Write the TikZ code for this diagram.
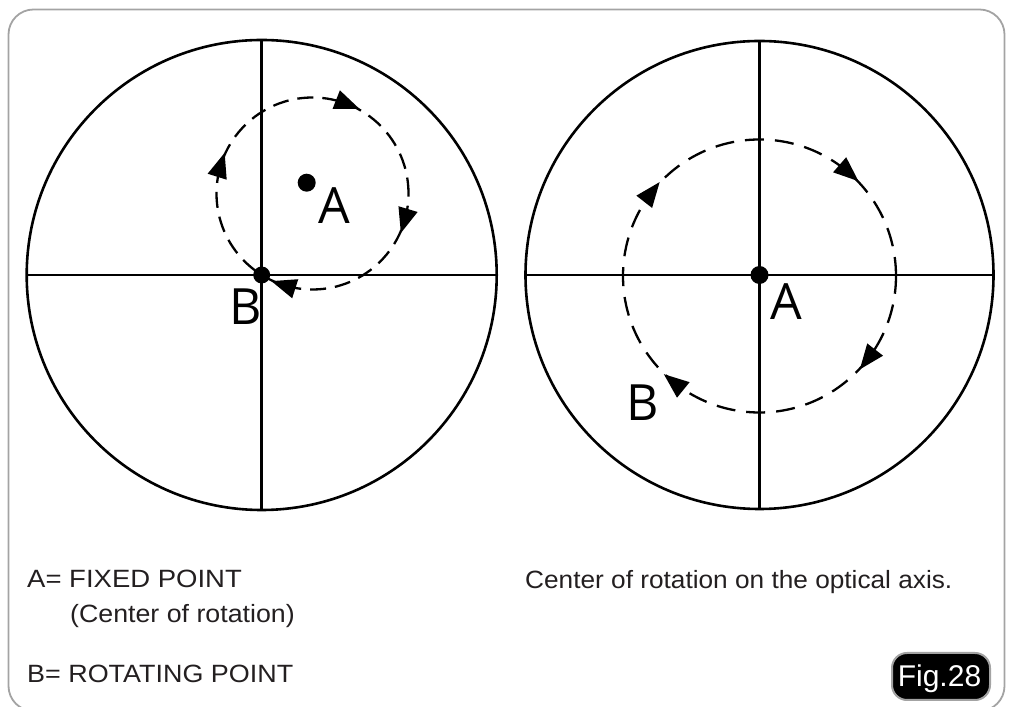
\documentclass[tikz,border=0pt]{standalone}
\usepackage{fontspec}
\setmainfont{Liberation Sans}
\newfontfamily\labelfont{Open Sans}
\usepackage{graphicx}
\usetikzlibrary{calc}
\definecolor{framegray}{HTML}{A3A3A3}
\definecolor{txtgray}{HTML}{231F20}
\begin{document}
\begin{tikzpicture}[x=1pt,y=1pt,
  frame/.style={draw=framegray, line width=1.8pt, rounded corners=25pt},
  bigcircle/.style={draw=black, line width=2.6pt},
  crossline/.style={draw=black, line width=2.6pt},
  dashcirc/.style={draw=black, line width=2.3pt, dash pattern=on 16pt off 9pt},
  dashcircb/.style={draw=black, line width=2.3pt, dash pattern=on 19pt off 11pt},
  dot/.style={circle, fill=black, inner sep=0pt},
  biglabel/.style={inner sep=0pt, font=\labelfont\fontsize{50}{50}\selectfont},
  caption/.style={inner sep=0pt, anchor=base west, text=txtgray, font=\fontsize{25}{25}\selectfont},
  cwhead/.pic={\fill[black] (0,-12.5) -- (-10,12.5) -- (10,12.5) -- cycle;},
  badge/.style={fill=black, draw=framegray, line width=2pt, rounded corners=15pt, minimum width=98pt, minimum height=47pt, inner sep=0pt},
  badgetext/.style={inner sep=0pt, anchor=base, text=white, font=\fontsize{30}{30}\selectfont}
]
\useasboundingbox (0,0) rectangle (1013,707);
\begin{scope}
\clip (0,0) rectangle (1013,707);
\draw[frame] (8.5,-4) rectangle (1004.5,697.5);
\end{scope}

% ---------- left diagram ----------
\coordinate (LC) at (261.7,432);
\coordinate (LD) at (312.5,513.5);
\draw[bigcircle] (LC) circle (235);
\draw[crossline] ($(LC)+(-235,0)$) -- ($(LC)+(235,0)$);
\draw[crossline] ($(LC)+(0,235)$) -- ($(LC)+(0,-235)$);
\draw[dashcirc] (LD) circle (96);
\path (LD) ++(68.4:96) pic[rotate=68.4]{cwhead};
\path (LD) ++(162.6:96) pic[rotate=162.6]{cwhead};
\path (LD) ++(-16.7:96) pic[rotate=-16.7]{cwhead};
\path (LD) ++(-107.7:96) pic[rotate=-107.7]{cwhead};
\node[dot, minimum size=17pt] (LBdot) at (LC) {};
\node[dot, minimum size=18pt] (LAdot) at (306.7,524.3) {};
\node[biglabel] (LA) at (334.5,501.5) {A};
\node[biglabel] (LB) at (246,400) {B};

% ---------- right diagram ----------
\coordinate (RC) at (759.5,432);
\coordinate (RD) at (759.5,431);
\draw[bigcircle] (RC) circle (234);
\draw[crossline] ($(RC)+(-234,0)$) -- ($(RC)+(234,0)$);
\draw[crossline] ($(RC)+(0,234)$) -- ($(RC)+(0,-234)$);
\draw[dashcircb] (RD) circle (136.5);
\path (RD) ++(142:136.5) pic[rotate=142]{cwhead};
\path (RD) ++(49:136.5) pic[rotate=49]{cwhead};
\path (RD) ++(-37.7:136.5) pic[rotate=-37.7]{cwhead};
\path (RD) ++(-129:136.5) pic[rotate=-129]{cwhead};
\node[dot, minimum size=18pt] (RAdot) at (RC) {};
\node[biglabel] (RA) at (786,405.5) {A};
\node[biglabel] (RB) at (643,304.5) {B};

% ---------- captions ----------
\node[caption] (c1) at (27,119) {\scalebox{1.1}[1]{A= FIXED POINT}};
\node[caption] (c2) at (70,84) {\scalebox{1.07}[1]{(Center of rotation)}};
\node[caption] (c3) at (27,24) {\scalebox{1.077}[1]{B= ROTATING POINT}};
\node[caption] (c4) at (525,118) {\scalebox{1.049}[1]{Center of rotation on the optical axis.}};
\node[badge] (fig) at (941,30.5) {};
\node[badgetext] (figtext) at (939.5,20) {Fig.28};
\end{tikzpicture}
\end{document}
